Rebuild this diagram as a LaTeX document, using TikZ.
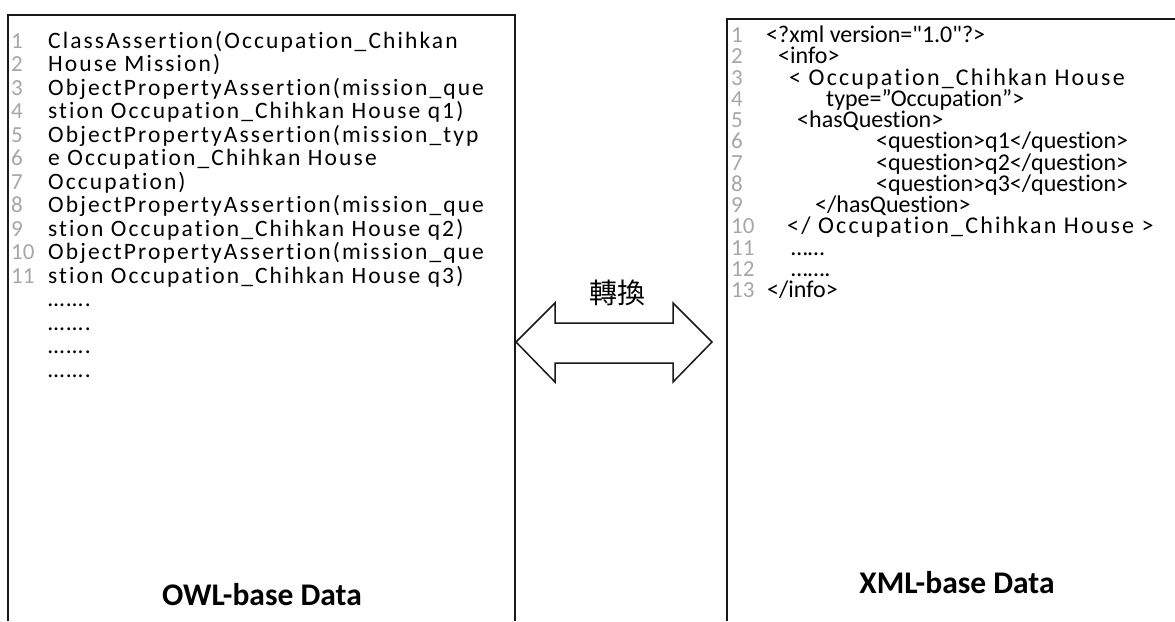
\documentclass[tikz,border=0pt]{standalone}
\usepackage{fontspec}
\setmainfont{Carlito}[Ligatures={NoCommon}]
\newfontfamily\cjk{Noto Sans CJK TC}
\newfontfamily\spaced{Carlito}[LetterSpace=9,Ligatures={NoCommon}]
\definecolor{numgray}{HTML}{A6A6A6}
\tikzset{
  boxline/.style={line width=1.5pt, draw=black!90},
  tight/.style={anchor=base west, inner sep=0pt, text height=14pt, text depth=4pt},
  num/.style={tight, text=numgray, font=\fontsize{23}{23}\selectfont},
  ltext/.style={tight, font=\fontsize{23.5}{23.5}\selectfont\spaced},
  rtext/.style={tight, font=\fontsize{24}{24}\selectfont},
  rspaced/.style={tight, font=\fontsize{24}{24}\selectfont\spaced},
  title/.style={inner sep=0pt, font=\fontsize{31.5}{31.5}\selectfont\bfseries},
}
\begin{document}
\begin{tikzpicture}[x=1pt,y=-1pt]
\useasboundingbox (0,0) rectangle (1175,621);
% boxes
\draw[boxline] (8,621) -- (8,15) -- (515,15) -- (515,621);
\draw[boxline] (727,621) -- (727,19) -- (1175,19);
% left numbers
\node[num] (ln1)  at (11,48) {1};
\node[num] (ln2)  at (11,71.5) {2};
\node[num] (ln3)  at (11,95) {3};
\node[num] (ln4)  at (11,118.5) {4};
\node[num] (ln5)  at (11,142) {5};
\node[num] (ln6)  at (11,165.5) {6};
\node[num] (ln7)  at (11,189) {7};
\node[num] (ln8)  at (11,212.5) {8};
\node[num] (ln9)  at (11,236) {9};
\node[num] (ln10) at (11,259.5) {10};
\node[num] (ln11) at (11,283) {11};
% left text
\node[ltext] (lt1)  at (48,48) {ClassAssertion(Occupation\_Chihkan};
\node[ltext] (lt2)  at (48,71.5) {House Mission)};
\node[ltext] (lt3)  at (48,95) {ObjectPropertyAssertion(mission\_que};
\node[ltext] (lt4)  at (48,118.5) {stion Occupation\_Chihkan House q1)};
\node[ltext] (lt5)  at (48,142) {ObjectPropertyAssertion(mission\_typ};
\node[ltext] (lt6)  at (48,165.5) {e Occupation\_Chihkan House};
\node[ltext] (lt7)  at (48,189) {Occupation)};
\node[ltext] (lt8)  at (48,212.5) {ObjectPropertyAssertion(mission\_que};
\node[ltext] (lt9)  at (48,236) {stion Occupation\_Chihkan House q2)};
\node[ltext] (lt10) at (48,259.5) {ObjectPropertyAssertion(mission\_que};
\node[ltext] (lt11) at (48,283) {stion Occupation\_Chihkan House q3)};
\node[ltext] (ld1)  at (48,306.5) {…….};
\node[ltext] (ld2)  at (48,330) {…….};
\node[ltext] (ld3)  at (48,353.5) {…….};
\node[ltext] (ld4)  at (48,377) {…….};
\node[title] (owl) at (262,595) {OWL-base Data};
% right numbers
\node[num] (rn1)  at (731,42.5) {1};
\node[num] (rn2)  at (731,63.75) {2};
\node[num] (rn3)  at (731,85) {3};
\node[num] (rn4)  at (731,106.25) {4};
\node[num] (rn5)  at (731,127.5) {5};
\node[num] (rn6)  at (731,148.75) {6};
\node[num] (rn7)  at (731,170) {7};
\node[num] (rn8)  at (731,191.25) {8};
\node[num] (rn9)  at (731,212.5) {9};
\node[num] (rn10) at (731,233.75) {10};
\node[num] (rn11) at (731,255) {11};
\node[num] (rn12) at (731,276.25) {12};
\node[num] (rn13) at (731,297.5) {13};
% right text
\node[rtext] (rt1)  at (766,42.5) {<?xml version=\textquotedbl 1.0\textquotedbl ?>};
\node[rtext] (rt2)  at (778,63.75) {<info>};
\node[rspaced] (rt3)  at (789,85) {< Occupation\_Chihkan House};
\node[rtext] (rt4)  at (826,106.25) {type=”Occupation”>};
\node[rtext] (rt5)  at (797,127.5) {<hasQuestion>};
\node[rtext] (rt6)  at (876,148.75) {<question>q1</question>};
\node[rtext] (rt7)  at (876,170) {<question>q2</question>};
\node[rtext] (rt8)  at (876,191.25) {<question>q3</question>};
\node[rtext] (rt9)  at (815,212.5) {</hasQuestion>};
\node[rspaced] (rt10) at (787,233.75) {</ Occupation\_Chihkan House >};
\node[rtext] (rt11) at (791,255) {……};
\node[rtext] (rt12) at (791,276.25) {…….};
\node[rtext] (rt13) at (767,297.5) {</info>};
\node[title] (xml) at (957,583) {XML-base Data};
% double arrow
\draw[boxline, line join=miter] (516,342) -- (555,303) -- (555,323) -- (673,323) -- (673,303)
  -- (712,342) -- (673,382) -- (673,363) -- (555,363) -- (555,382) -- cycle;
\node[inner sep=0pt, font=\fontsize{28}{28}\selectfont\cjk] (conv) at (617,293) {轉換};
\end{tikzpicture}
\end{document}
